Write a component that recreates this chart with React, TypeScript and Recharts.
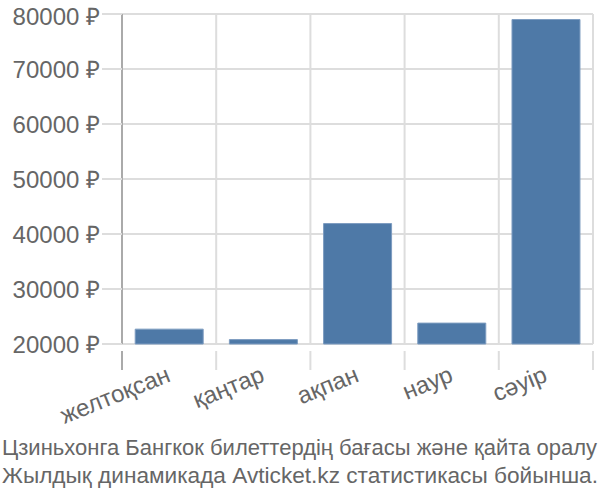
import { BarChart, Bar, XAxis, YAxis, CartesianGrid } from "recharts";

const months = ["желтоқсан", "қаңтар", "ақпан", "наур", "сәуір"];
const prices = [22700, 20800, 41900, 23800, 79000];
const yTicks = [20000, 30000, 40000, 50000, 60000, 70000, 80000];
const titleLines = [
  "Цзиньхонга Бангкок билеттердің бағасы және қайта оралу",
  "Жылдық динамикада Avticket.kz статистикасы бойынша."
];

const FONT = "'Liberation Sans', Arial, sans-serif";
const TEXT = "#666";
const GRID = "#ddd";

const data = months.map((m, i) => ({ month: m, price: prices[i] }));

// vertical grid sits on the band edges, not the band centres
function bandEdges({ offset }: any) {
  const step = offset.width / months.length;
  return Array.from({ length: months.length + 1 }, (_, i) => offset.left + i * step);
}

function MonthTick({ x, y, payload, index }: any) {
  const half = payload.offset ?? 0;
  const last = index === months.length - 1;
  return (
    <g>
      <line
        x1={x - half}
        x2={x - half}
        y1={y - 1}
        y2={y + 18}
        stroke={index === 0 ? "#aaa" : GRID}
        strokeWidth={2}
      />
      {last && (
        <line x1={x + half} x2={x + half} y1={y - 1} y2={y + 18} stroke={GRID} strokeWidth={2} />
      )}
      <g transform={`translate(${x},${y + 22})`}>
        <text
          x={0}
          y={0}
          textAnchor="end"
          transform="rotate(-22)"
          fill={TEXT}
          fontSize={24}
          fontFamily={FONT}
          dy="0.3em"
        >
          {payload.value}
        </text>
      </g>
    </g>
  );
}

export default function App() {
  return (
    <div style={{ position: "absolute", left: 0, top: 0, width: 600, height: 500, background: "#fff" }}>
      <BarChart
        width={600}
        height={440}
        data={data}
        margin={{ top: 14, right: 7, bottom: 15, left: 0 }}
        barCategoryGap="14%"
      >
        <CartesianGrid
          stroke={GRID}
          strokeWidth={2}
          verticalCoordinatesGenerator={bandEdges}
        />
        <XAxis
          dataKey="month"
          height={81}
          axisLine={false}
          tickLine={false}
          tick={<MonthTick />}
          interval={0}
        />
        <YAxis
          width={122}
          domain={[20000, 80000]}
          ticks={yTicks}
          tickFormatter={(v) => `${v} ₽`}
          tick={{ fill: TEXT, fontSize: 24, fontFamily: FONT }}
          tickLine={{ stroke: GRID, strokeWidth: 2 }}
          tickSize={20}
          tickMargin={2}
          axisLine={{ stroke: "#aaa", strokeWidth: 2 }}
        />
        <Bar
          dataKey="price"
          fill="#4e79a7"
          stroke="#7d9cc0"
          strokeWidth={1}
          isAnimationActive={false}
        />
      </BarChart>
      <svg width={600} height={75} style={{ display: "block", marginTop: -15 }}>
        {titleLines.map((line, i) => (
          <text
            key={i}
            x={2}
            y={30 + i * 28}
            textLength={i === 0 ? 595 : 596}
            lengthAdjust="spacingAndGlyphs"
            fill={TEXT}
            fontSize={22}
            fontFamily={FONT}
          >
            {line}
          </text>
        ))}
      </svg>
    </div>
  );
}
